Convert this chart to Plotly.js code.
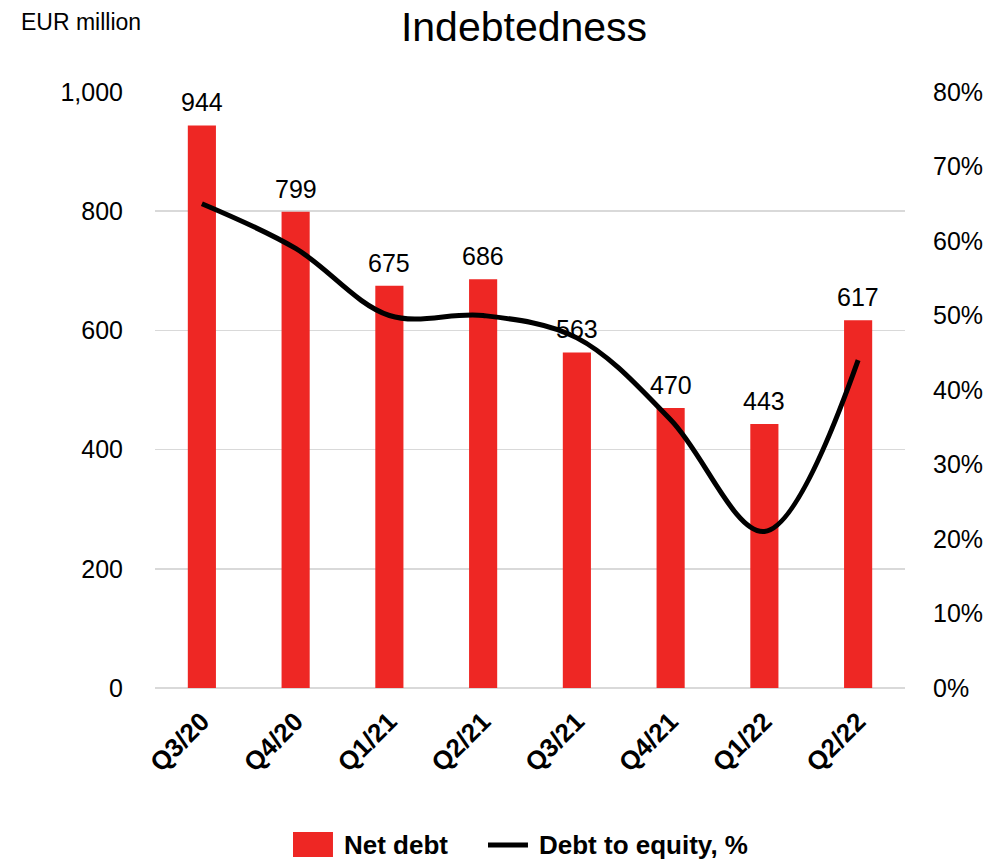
<!DOCTYPE html>
<html>
<head>
<meta charset="utf-8">
<script src="https://cdn.plot.ly/plotly-3.0.1.min.js"></script>
<style>html,body{margin:0;padding:0;background:#fff;}#chart{width:991px;height:859px;}</style>
</head>
<body>
<div id="chart"></div>
<script>
const categories = ["Q3/20","Q4/20","Q1/21","Q2/21","Q3/21","Q4/21","Q1/22","Q2/22"];
const netDebt = [944, 799, 675, 686, 563, 470, 443, 617];
const debtToEquity = [65, 59, 50, 50, 47, 36, 21, 44];
const leftTicks = [0, 200, 400, 600, 800, 1000];
const leftTickText = ["0","200","400","600","800","1,000"];
const rightTicks = [0,10,20,30,40,50,60,70,80];
const rightTickText = rightTicks.map(v => v + "%");
const seriesNames = ["Net debt", "Debt to equity, %"];

const FONT = "Liberation Sans, Arial, sans-serif";
const BAR_COLOR = "#EE2724";

const traces = [
  {
    type: "bar",
    name: seriesNames[0],
    x: categories,
    y: netDebt,
    marker: {color: BAR_COLOR},
    showlegend: false,
    hoverinfo: "skip"
  },
  {
    type: "scatter",
    mode: "lines",
    name: seriesNames[1],
    x: categories,
    y: debtToEquity,
    yaxis: "y2",
    line: {color: "#000000", width: 5, shape: "spline", smoothing: 1},
    showlegend: false,
    hoverinfo: "skip"
  }
];

const annotations = categories.map((c, i) => ({
  x: c, y: netDebt[i], xref: "x", yref: "y",
  text: String(netDebt[i]), showarrow: false,
  yanchor: "bottom", yshift: 7,
  font: {family: FONT, size: 25, color: "#000"}
}));
annotations.push({
  xref: "paper", yref: "paper", x: -0.182, y: 1.117,
  xanchor: "left", yanchor: "middle",
  text: "EUR million", showarrow: false,
  font: {family: FONT, size: 23, color: "#000"}
});
// legend labels
annotations.push({
  xref: "paper", yref: "paper", x: 0.2493, y: -0.2634,
  xanchor: "left", yanchor: "middle", showarrow: false,
  text: "<b>" + seriesNames[0] + "</b>",
  font: {family: FONT, size: 26, color: "#000"}
});
annotations.push({
  xref: "paper", yref: "paper", x: 0.5093, y: -0.2634,
  xanchor: "left", yanchor: "middle", showarrow: false,
  text: "<b>" + seriesNames[1] + "</b>",
  font: {family: FONT, size: 26, color: "#000"}
});

const shapes = [
  {type: "rect", xref: "paper", yref: "paper", x0: 0.184, x1: 0.2373, y0: -0.2836, y1: -0.2416,
   fillcolor: BAR_COLOR, line: {width: 0}},
  {type: "line", xref: "paper", yref: "paper", x0: 0.444, x1: 0.4973, y0: -0.2634, y1: -0.2634,
   line: {color: "#000", width: 5}}
];

const layout = {
  width: 991, height: 859,
  margin: {l: 155, r: 86, t: 92, b: 171},
  paper_bgcolor: "#ffffff", plot_bgcolor: "#ffffff",
  font: {family: FONT, color: "#000"},
  title: {text: "Indebtedness", x: 0.492, xref: "paper", xanchor: "center", yref: "container", y: 0.969, yanchor: "middle", font: {family: FONT, size: 41, color: "#000"}},
  bargap: 0.7,
  showlegend: false,
  xaxis: {
    type: "category", tickangle: -45, showgrid: false, showline: false, zeroline: false,
    tickfont: {family: FONT, size: 26, color: "#000", weight: "bold"},
    ticks: "", ticklabelstandoff: 12, automargin: false, fixedrange: true
  },
  yaxis: {
    range: [0, 1000], tickvals: leftTicks, ticktext: leftTickText,
    showgrid: true, gridcolor: "#d9d9d9", gridwidth: 1.5, zeroline: true, zerolinecolor: "#d9d9d9", zerolinewidth: 1.5,
    showline: false, ticks: "", ticklabelstandoff: 31, automargin: false,
    tickfont: {family: FONT, size: 25, color: "#000"}
  },
  yaxis2: {
    overlaying: "y", side: "right", range: [0, 80], tickvals: rightTicks, ticktext: rightTickText,
    showgrid: false, zeroline: false, showline: false, ticks: "", ticklabelstandoff: 27, automargin: false,
    tickfont: {family: FONT, size: 25, color: "#000"}
  },
  annotations: annotations,
  shapes: shapes
};

Plotly.newPlot("chart", traces, layout, {displayModeBar: false, staticPlot: true});
</script>
</body>
</html>
